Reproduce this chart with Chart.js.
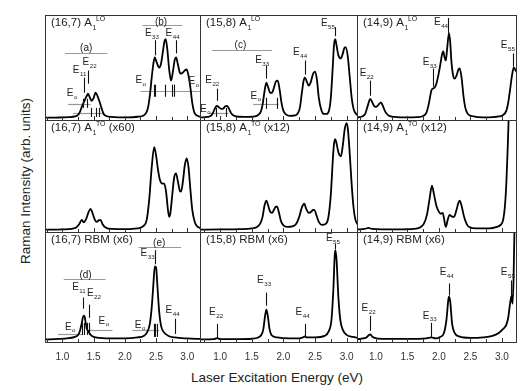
<!DOCTYPE html>
<html><head><meta charset="utf-8">
<script src="https://cdn.jsdelivr.net/npm/chart.js@4/dist/chart.umd.min.js"></script>
<style>
html,body{margin:0;padding:0;background:#fff;width:526px;height:391px;overflow:hidden;}
#wrap{position:relative;width:526px;height:391px;}
canvas{position:absolute;}
.t{position:absolute;font-family:"Liberation Sans",Arial,sans-serif;color:#222;font-size:13.5px;white-space:nowrap;}
</style></head><body><div id="wrap">
<div class="t" style="left:277px;top:377px;transform:translate(-50%,-50%);">Laser Excitation Energy (eV)</div>
<div class="t" style="left:25px;top:181px;transform:translate(-50%,-50%) rotate(-90deg);">Raman Intensity (arb. units)</div>
</div>
<script>
// ---------- data ----------
const TICK_VALUES = [1.0, 1.5, 2.0, 2.5, 3.0];
const TICK_LABELS = ['1.0', '1.5', '2.0', '2.5', '3.0'];
const MINOR_TICKS = [0.75, 1.0, 1.25, 1.5, 1.75, 2.0, 2.25, 2.5, 2.75, 3.0];

// (16,7) A1 LO
const E_167_LO = [0.72,0.9,1.1,1.2,1.25,1.28,1.31,1.33,1.36,1.39,1.41,1.44,1.47,1.50,1.53,1.56,1.60,1.63,1.66,1.70,1.78,1.9,2.05,2.2,2.30,2.34,2.37,2.40,2.43,2.46,2.48,2.51,2.55,2.58,2.61,2.635,2.655,2.68,2.71,2.74,2.77,2.80,2.82,2.85,2.88,2.90,2.93,2.96,2.99,3.02,3.05,3.08,3.11,3.15,3.22];
const I_167_LO = [0.3,0.4,0.8,1.5,3,6,11,14,18,22,24,20,17,20,25,22,15,9,4,2,1,0.6,0.6,1.2,2.5,5,10,22,40,55,60,55,50,54,66,76,78,68,48,37,46,58,60,53,45,44,45,47,48,42,30,15,6,2.5,1];
// (15,8) A1 LO
const E_158_LO = [0.68,0.80,0.86,0.90,0.93,0.95,0.98,1.02,1.05,1.08,1.11,1.14,1.17,1.21,1.30,1.45,1.55,1.60,1.64,1.67,1.70,1.73,1.76,1.79,1.82,1.85,1.88,1.91,1.94,1.97,2.00,2.04,2.10,2.18,2.22,2.26,2.29,2.32,2.34,2.37,2.40,2.43,2.47,2.50,2.53,2.56,2.60,2.64,2.68,2.72,2.75,2.78,2.80,2.82,2.84,2.87,2.91,2.94,2.97,2.99,3.02,3.05,3.08,3.11,3.15,3.18];
const I_158_LO = [0.5,1,2.5,7,11,12,10.5,9,9.5,11.5,12,9,5,2.5,1.2,1,1.5,3,6,13,26,35,30,25,25,30,36,37,28,15,7,3.5,2,2.5,4,10,24,37,40,36,32,35,44,46,38,20,8,4,4,7,20,50,72,78,72,62,59,64,70,70,60,40,20,9,4,2.5];
// (14,9) A1 LO
const E_149_LO = [0.70,0.78,0.83,0.87,0.91,0.94,0.97,1.00,1.04,1.08,1.11,1.15,1.20,1.30,1.5,1.65,1.75,1.80,1.84,1.88,1.90,1.93,1.96,1.99,2.02,2.05,2.07,2.09,2.11,2.13,2.16,2.18,2.20,2.23,2.25,2.28,2.31,2.33,2.36,2.39,2.42,2.46,2.55,2.7,2.85,2.95,3.02,3.07,3.10,3.13,3.16,3.19,3.21,3.24];
const I_149_LO = [0.5,1.5,4,12,19,16,12,11,13,15.5,12,6,2.5,1,0.5,0.8,2,5,14,27,29,30,34,42,52,63,66,60,57,68,84,75,55,41,39,42,48,49,40,22,10,4,1.5,0.6,0.8,1.5,3,7,15,28,42,50,48,45];
// (16,7) A1 TO (x60)
const E_167_TO = [0.72,1.0,1.15,1.22,1.27,1.31,1.34,1.38,1.42,1.45,1.48,1.52,1.55,1.58,1.61,1.64,1.69,1.8,2.0,2.2,2.30,2.35,2.39,2.43,2.47,2.50,2.53,2.56,2.60,2.63,2.66,2.69,2.71,2.73,2.76,2.79,2.82,2.85,2.88,2.90,2.93,2.96,2.99,3.02,3.05,3.08,3.12,3.16,3.22];
const I_167_TO = [0.3,0.6,1.2,2.5,6,10,7.5,11,18,21,17,10,8,9.5,10,6,2.5,1,0.8,1.5,4,10,30,62,82,74,60,50,46,46,38,20,13,17,35,52,56,48,39,38,48,64,71,62,40,20,8,3.5,1.5];
// (15,8) A1 TO (x12)
const E_158_TO = [0.68,1.0,1.3,1.5,1.58,1.63,1.67,1.70,1.73,1.76,1.79,1.82,1.85,1.88,1.90,1.93,1.96,2.00,2.06,2.14,2.20,2.25,2.29,2.33,2.36,2.40,2.44,2.47,2.49,2.52,2.56,2.61,2.67,2.71,2.75,2.78,2.80,2.82,2.84,2.87,2.91,2.94,2.97,3.00,3.02,3.05,3.08,3.11,3.14,3.18];
const I_158_TO = [0.3,0.5,0.8,1.5,3,6,13,24,29,24,18,17,20,23,23,17,9,4.5,3,3.5,6,13,22,26,21,17,18,20,20,15,8,5,6,12,35,68,85,90,86,77,73,84,100,106,100,75,45,22,10,5];
// (14,9) A1 TO (x12)
const E_149_TO = [0.70,0.82,0.88,0.94,1.1,1.4,1.6,1.70,1.76,1.81,1.85,1.89,1.92,1.96,2.00,2.03,2.06,2.08,2.11,2.14,2.17,2.20,2.24,2.28,2.31,2.33,2.36,2.40,2.44,2.48,2.6,2.8,2.92,2.98,3.02,3.05,3.07,3.09,3.11,3.14,3.18,3.24];
const I_149_TO = [0.5,1,2,1,0.6,0.6,1,2.5,6,15,30,44,36,24,18,16,17,12,3,10,15,13.5,13,20,27,29,24,13,6,3,1.5,1.5,3,5,10,25,45,77,115,170,230,300];
// (16,7) RBM (x6)
const E_167_RBM = [0.72,0.95,1.1,1.2,1.25,1.28,1.31,1.33,1.35,1.37,1.39,1.41,1.43,1.46,1.50,1.6,1.8,2.0,2.2,2.3,2.36,2.40,2.43,2.46,2.48,2.50,2.52,2.55,2.58,2.62,2.70,2.80,3.0,3.22];
const I_167_RBM = [0.5,1,1.8,3,5,9,17,23,24,18,11,9,7,4.5,3,2,1.5,1.5,2.5,4,8,16,32,58,73,72,55,28,14,8,4,2.5,1.5,1];
// (15,8) RBM (x6)
const E_158_RBM = [0.68,0.9,0.95,1.0,1.3,1.5,1.6,1.65,1.68,1.71,1.73,1.75,1.78,1.81,1.9,2.1,2.25,2.31,2.34,2.37,2.5,2.65,2.72,2.76,2.79,2.81,2.82,2.84,2.87,2.90,2.94,3.0,3.1,3.18];
const I_158_RBM = [0.5,0.8,1.8,0.8,0.8,1.2,2.5,5,10,24,30,25,11,5,2.5,1.5,1.5,2.5,3.5,2.5,2.5,4,9,20,50,82,89,80,42,20,10,5,3,2];
// (14,9) RBM (x6)
const E_149_RBM = [0.70,0.8,0.86,0.89,0.91,0.94,0.98,1.1,1.5,1.8,1.88,1.95,2.02,2.08,2.12,2.15,2.16,2.18,2.21,2.25,2.32,2.5,2.7,2.85,2.95,3.02,3.07,3.10,3.13,3.155,3.17,3.185,3.20,3.22,3.24];
const I_149_RBM = [0.8,1.5,3,5,5.5,3.5,2,1,1,1.5,2.5,1.5,3,7,20,40,43,38,16,7,3.5,2,2.5,4,7,11,15,22,36,44,36,60,110,160,200];

const TITLES = [
  ['(16,7) A','1','LO',''], ['(15,8) A','1','LO',''], ['(14,9) A','1','LO',''],
  ['(16,7) A','1','TO',' (x60)'], ['(15,8) A','1','TO',' (x12)'], ['(14,9) A','1','TO',' (x12)'],
  ['(16,7) RBM (x6)','','',''], ['(15,8) RBM (x6)','','',''], ['(14,9) RBM (x6)','','','']
];

// annotations: labels [E, value, text, subscript], marks [E, v1, v2], rules [E1, E2, value]
const LABELS = [
  [[1.38,69,'(a)',''],[1.27,47,'E','11'],[1.43,55,'E','22'],[1.15,24,'E','o'],[2.58,95,'(b)',''],[2.43,84,'E','33'],[2.76,84,'E','44'],[2.25,37,'E','o'],[3.10,36,'E','o']],
  [[1.32,72,'(c)',''],[0.87,37,'E','22'],[0.76,9,'E','o'],[1.66,57,'E','33'],[1.56,22,'E','o'],[2.26,65,'E','44'],[2.70,94,'E','55']],
  [[0.85,44,'E','22'],[1.85,55,'E','33'],[2.03,95,'E','44'],[3.09,72,'E','55']],
  [],[],[],
  [[1.37,64,'(d)',''],[1.26,52,'E','11'],[1.50,46,'E','22'],[1.12,13,'E','o'],[1.66,19,'E','o'],[2.55,96,'(e)',''],[2.36,86,'E','33'],[2.76,29,'E','44'],[2.24,15,'E','o']],
  [[0.93,27,'E','22'],[1.69,59,'E','33'],[2.30,27,'E','44'],[2.78,101,'E','55']],
  [[0.88,31,'E','22'],[1.85,24,'E','33'],[2.12,67,'E','44'],[3.09,67,'E','55']]
];
const MARKS = [
  [[1.34,25,40],[1.41,34,47],[2.48,62,77],[2.82,64,77],[1.33,10,19],[1.40,10,19],[1.46,1,10],[1.53,1,10],[1.59,1,10],[2.46,21,33],[2.49,21,33],[2.65,21,33],[2.76,21,33],[2.79,21,33]],
  [[0.95,17,29],[1.72,39,52],[2.34,43,57],[2.82,81,90],[0.93,1,10],[1.09,1,10],[1.73,9,20],[1.90,9,20]],
  [[0.91,22,37],[1.90,31,49],[2.15,84,99],[3.17,51,64]],
  [],[],[],
  [[1.33,31,42],[1.42,22,35],[1.32,5,17],[1.35,5,17],[1.39,5,17],[1.43,5,17],[2.48,75,89],[2.81,6,21],[2.46,3,16],[2.48,3,16],[2.52,3,16]],
  [[0.95,2,16],[1.73,34,47],[2.34,2,16],[2.82,90,95]],
  [[0.91,9,24],[1.88,2,17],[2.16,44,56],[3.15,44,59]]
];
const RULES = [
  [[1.04,1.72,64],[1.09,1.45,14.3],[1.17,1.66,5.3],[2.28,2.92,92],[2.25,3.22,27]],
  [[0.87,1.82,67],[0.82,1.13,5.3],[1.52,1.92,14.3]],
  [],[],[],[],
  [[1.02,1.69,60],[0.93,1.33,6],[1.39,1.80,10],[2.22,2.90,92],[2.12,2.55,10]],
  [],[]
];

// ---------- layout ----------
const COLS = [[45,200],[200,357],[357,516]];
const ROWS = [[15,120],[120,232],[232,342]];
const XR = [[0.72,3.22],[0.68,3.18],[0.70,3.24]];
const YR = [[-3,102],[-3,109],[-3,107]];
const AXIS_H = 26;
const FONT = '"Liberation Sans", Arial, sans-serif';
const SERIES = [
  [E_167_LO,I_167_LO],[E_158_LO,I_158_LO],[E_149_LO,I_149_LO],
  [E_167_TO,I_167_TO],[E_158_TO,I_158_TO],[E_149_TO,I_149_TO],
  [E_167_RBM,I_167_RBM],[E_158_RBM,I_158_RBM],[E_149_RBM,I_149_RBM]
];

function drawSubText(ctx, cx, cy, base, sub, size) {
  ctx.font = size + 'px ' + FONT;
  const wb = ctx.measureText(base).width;
  ctx.font = (size*0.62) + 'px ' + FONT;
  const ws = sub ? ctx.measureText(sub).width : 0;
  let x0 = cx - (wb + ws) / 2;
  ctx.textBaseline = 'middle'; ctx.textAlign = 'left';
  ctx.font = size + 'px ' + FONT;
  ctx.fillText(base, x0, cy);
  if (sub) { ctx.font = (size*0.62) + 'px ' + FONT; ctx.fillText(sub, x0 + wb + 0.5, cy + size*0.38); }
}

const panelPlugin = {
  id: 'panel',
  beforeDatasetsDraw(chart, args, o) {
    const {ctx, scales:{x, y}} = chart;
    ctx.save();
    ctx.strokeStyle = '#999'; ctx.lineWidth = 1.2;
    RULES[o.i].forEach(([e1, e2, v]) => {
      const py = Math.round(y.getPixelForValue(v)) + 0.5;
      ctx.beginPath(); ctx.moveTo(x.getPixelForValue(e1), py); ctx.lineTo(x.getPixelForValue(e2), py); ctx.stroke();
    });
    ctx.restore();
  },
  afterDatasetsDraw(chart, args, o) {
    const {ctx, chartArea: a, scales:{x, y}} = chart;
    ctx.save();
    ctx.strokeStyle = '#111'; ctx.lineWidth = 1.1;
    MARKS[o.i].forEach(([e, v1, v2]) => {
      const px = Math.round(x.getPixelForValue(e)) + 0.5;
      ctx.beginPath(); ctx.moveTo(px, y.getPixelForValue(v1)); ctx.lineTo(px, y.getPixelForValue(v2)); ctx.stroke();
    });
    ctx.fillStyle = '#222';
    LABELS[o.i].forEach(([e, v, t, s]) => {
      drawSubText(ctx, x.getPixelForValue(e), y.getPixelForValue(v), t, s, 10);
    });
    // title
    const [t0, sub, sup, rest] = TITLES[o.i];
    ctx.textBaseline = 'middle'; ctx.textAlign = 'left';
    ctx.font = '11.5px ' + FONT;
    let tx = a.left + 6, ty = a.top + 8;
    ctx.fillText(t0, tx, ty);
    tx += ctx.measureText(t0).width;
    if (sub) {
      ctx.font = '7px ' + FONT;
      ctx.fillText(sub, tx + 0.5, ty + 5);
      ctx.fillText(sup, tx + 4, ty - 4);
      tx += 4 + ctx.measureText(sup).width;
      ctx.font = '11.5px ' + FONT;
      ctx.fillText(rest, tx, ty);
    }
    // inward ticks on bottom
    ctx.strokeStyle = '#333'; ctx.lineWidth = 1;
    MINOR_TICKS.forEach(t => {
      if (t < x.min || t > x.max) return;
      const px = Math.round(x.getPixelForValue(t)) + 0.5;
      const len = TICK_VALUES.includes(t) ? 4 : 3;
      ctx.beginPath(); ctx.moveTo(px, a.bottom - 1); ctx.lineTo(px, a.bottom - 1 - len); ctx.stroke();
    });
    // frame
    ctx.strokeStyle = '#333'; ctx.lineWidth = 1;
    ctx.strokeRect(a.left + 0.5, a.top + 0.5, a.width - 1, a.height - 1);
    ctx.restore();
  }
};

const wrap = document.getElementById('wrap');
for (let i = 0; i < 9; i++) {
  const r = Math.floor(i / 3), c = i % 3;
  const w = COLS[c][1] - COLS[c][0] + 1;
  const ph = ROWS[r][1] - ROWS[r][0] + 1;
  const h = ph + (r === 2 ? AXIS_H : 0);
  const cv = document.createElement('canvas');
  cv.width = w; cv.height = h;
  cv.style.left = COLS[c][0] + 'px'; cv.style.top = ROWS[r][0] + 'px';
  cv.style.width = w + 'px'; cv.style.height = h + 'px';
  wrap.appendChild(cv);
  const [E, I] = SERIES[i];
  new Chart(cv, {
    type: 'line',
    data: { datasets: [{ data: E.map((e, k) => ({x: e, y: I[k]})), borderColor: '#000', borderWidth: 1.8,
      pointRadius: 0, pointHoverRadius: 0, cubicInterpolationMode: 'monotone', fill: false }] },
    options: {
      responsive: false, animation: false, devicePixelRatio: 1,
      layout: { padding: 0, autoPadding: false },
      events: [],
      plugins: { legend: { display: false }, tooltip: { enabled: false }, panel: { i } },
      scales: {
        x: { type: 'linear', min: XR[c][0], max: XR[c][1], display: r === 2,
          grid: { display: false, drawTicks: false }, border: { display: false },
          afterBuildTicks: s => { s.ticks = TICK_VALUES.map(v => ({ value: v })); },
          afterFit: s => { if (s.options.display) { s.height = AXIS_H; } s.paddingLeft = 0; s.paddingRight = 0; },
          ticks: { padding: 8, color: '#333', font: { family: FONT, size: 10 }, maxRotation: 0, autoSkip: false,
            callback: v => TICK_LABELS[TICK_VALUES.indexOf(v)] } },
        y: { type: 'linear', min: YR[r][0], max: YR[r][1], display: false }
      }
    },
    plugins: [panelPlugin]
  });
}
</script>
</body></html>
